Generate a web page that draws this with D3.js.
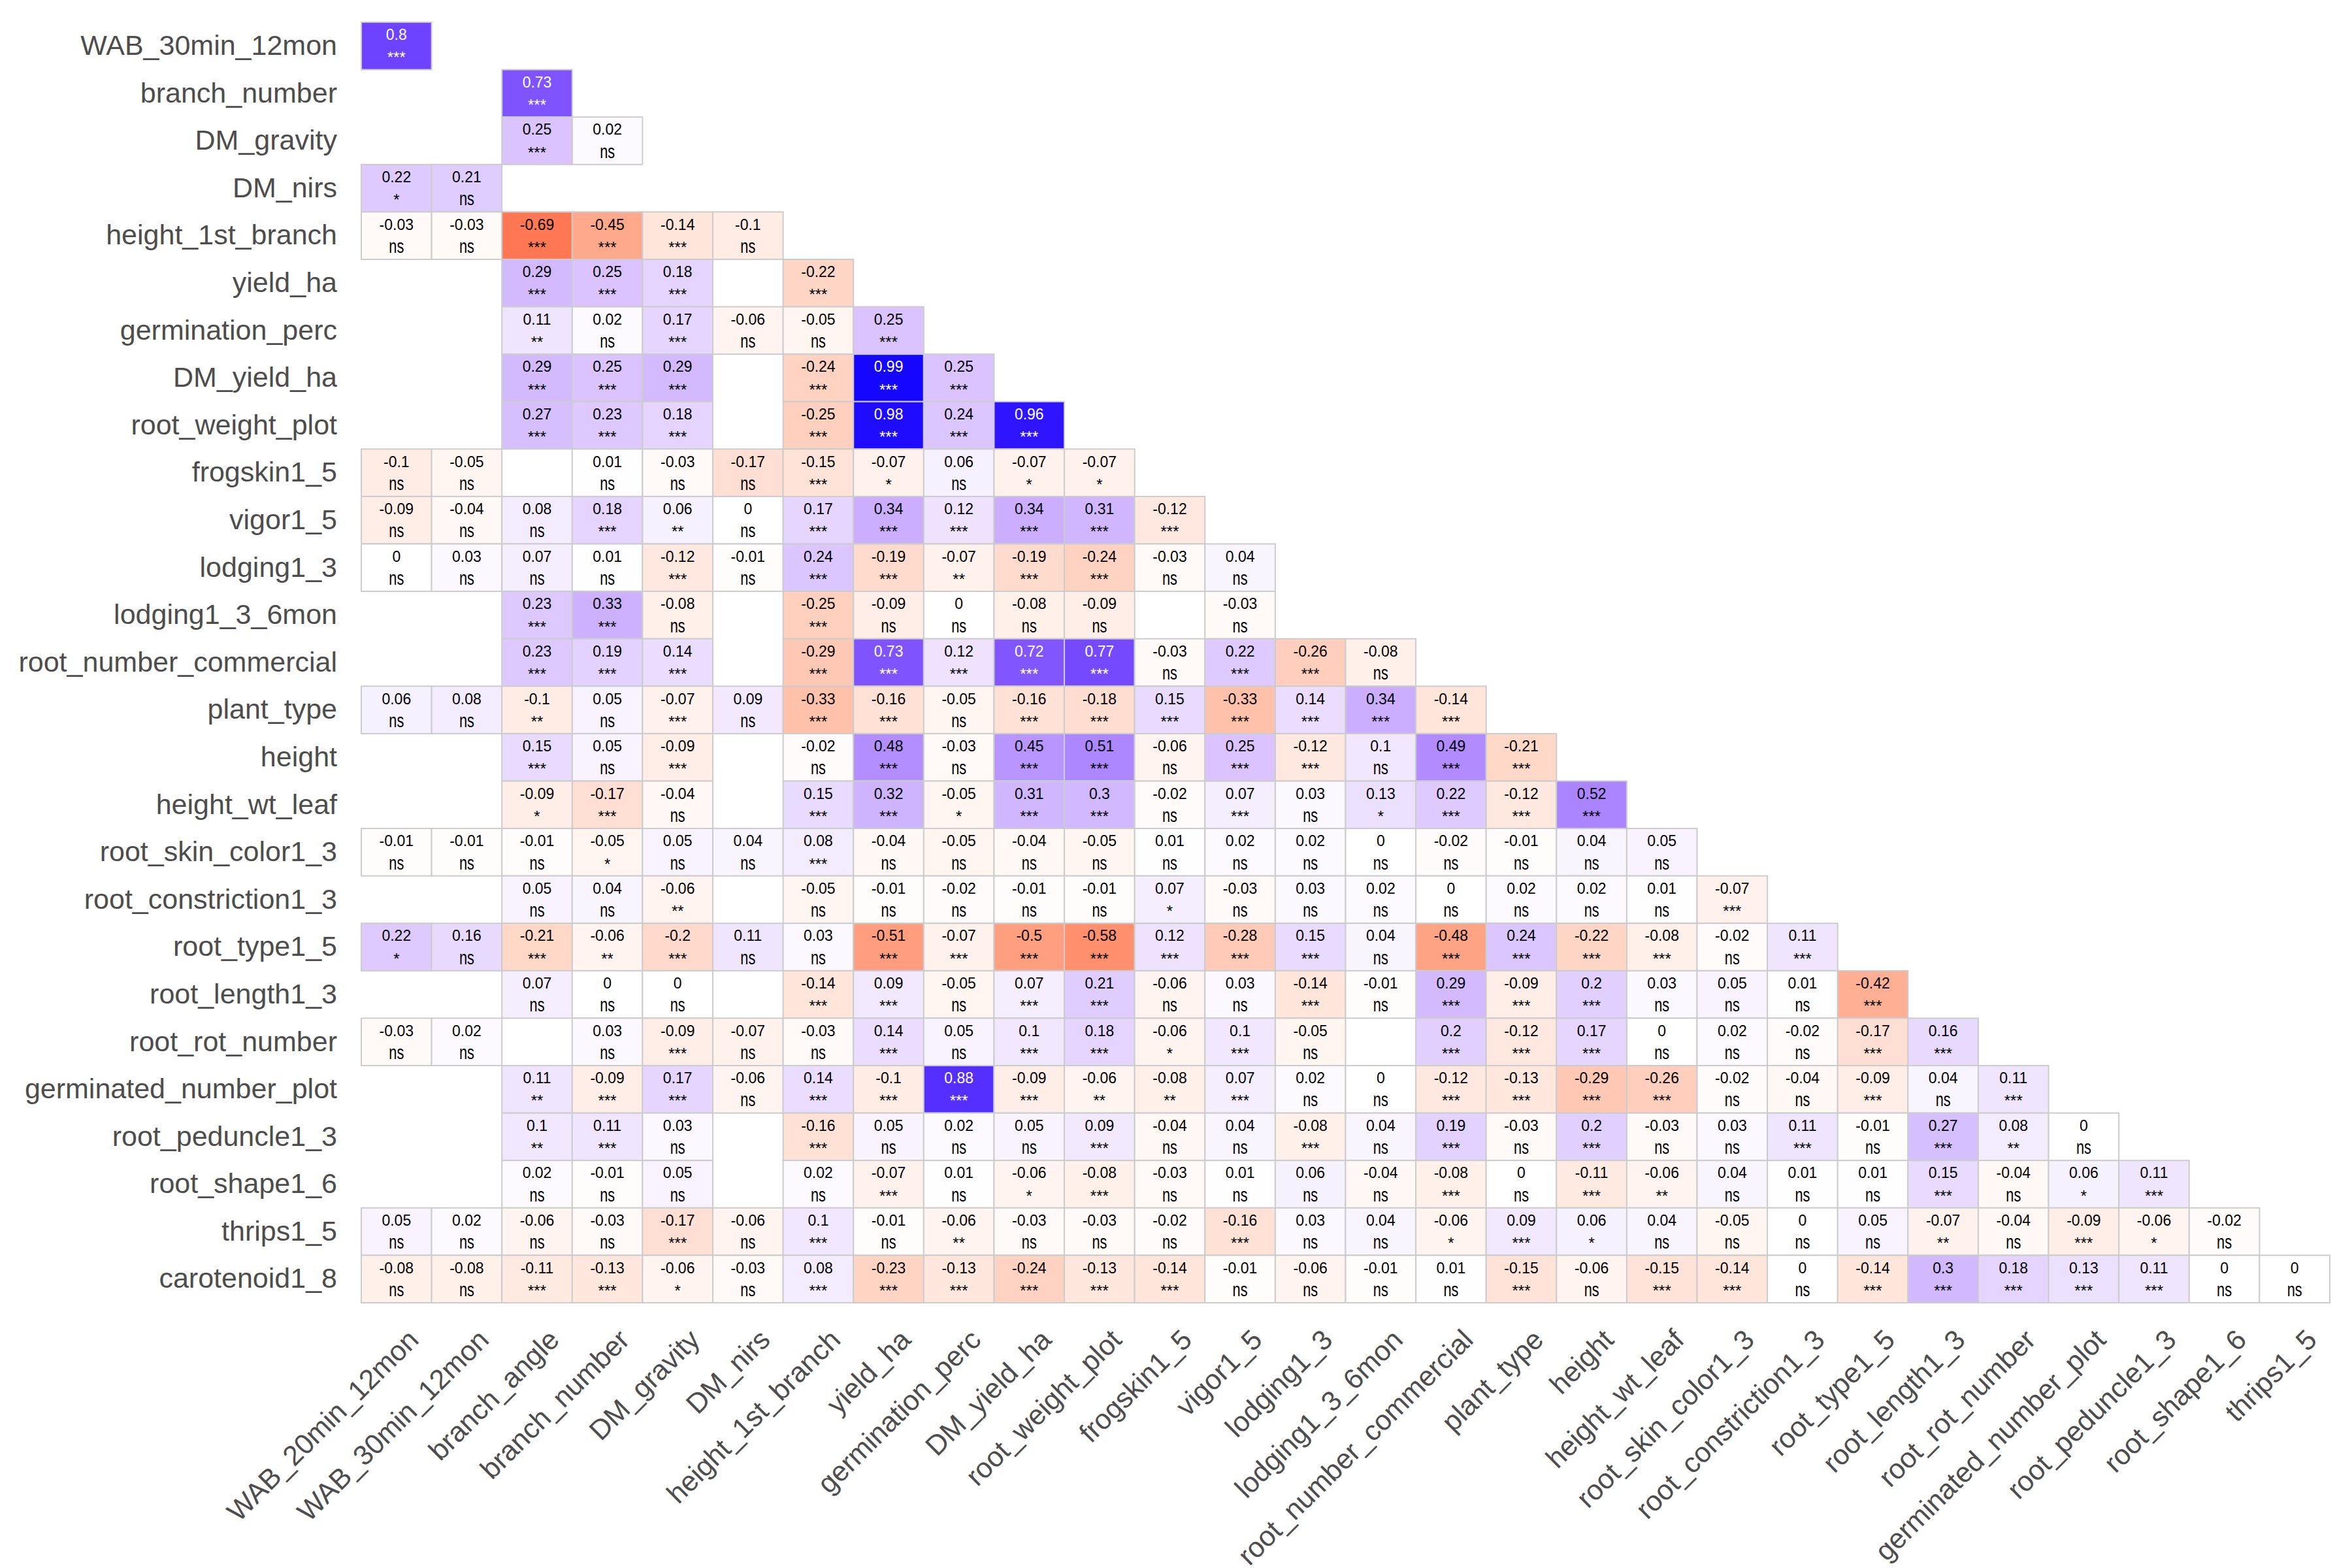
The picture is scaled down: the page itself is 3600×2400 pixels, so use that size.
<!DOCTYPE html>
<html>
<head>
<meta charset="utf-8">
<script src="https://cdn.jsdelivr.net/npm/d3@7"></script>
<style>
  body { margin: 0; background: #fff; }
  svg { display: block; font-family: "Liberation Sans", Arial, sans-serif; }
</style>
</head>
<body>
<svg id="svg"></svg>
<script>
// variables on the rows (top to bottom) and on the columns (left to right)
var rowLabels = ["WAB_30min_12mon", "branch_number", "DM_gravity", "DM_nirs", "height_1st_branch",
  "yield_ha", "germination_perc", "DM_yield_ha", "root_weight_plot", "frogskin1_5", "vigor1_5",
  "lodging1_3", "lodging1_3_6mon", "root_number_commercial", "plant_type", "height", "height_wt_leaf",
  "root_skin_color1_3", "root_constriction1_3", "root_type1_5", "root_length1_3", "root_rot_number",
  "germinated_number_plot", "root_peduncle1_3", "root_shape1_6", "thrips1_5", "carotenoid1_8"];

var colLabels = ["WAB_20min_12mon", "WAB_30min_12mon", "branch_angle", "branch_number", "DM_gravity",
  "DM_nirs", "height_1st_branch", "yield_ha", "germination_perc", "DM_yield_ha", "root_weight_plot",
  "frogskin1_5", "vigor1_5", "lodging1_3", "lodging1_3_6mon", "root_number_commercial", "plant_type",
  "height", "height_wt_leaf", "root_skin_color1_3", "root_constriction1_3", "root_type1_5",
  "root_length1_3", "root_rot_number", "germinated_number_plot", "root_peduncle1_3", "root_shape1_6",
  "thrips1_5"];

// correlation per row, null = no value (blank cell)
var corrValues = [
  [0.8],
  [null, null, 0.73],
  [null, null, 0.25, 0.02],
  [0.22, 0.21, null, null, null],
  [-0.03, -0.03, -0.69, -0.45, -0.14, -0.1],
  [null, null, 0.29, 0.25, 0.18, null, -0.22],
  [null, null, 0.11, 0.02, 0.17, -0.06, -0.05, 0.25],
  [null, null, 0.29, 0.25, 0.29, null, -0.24, 0.99, 0.25],
  [null, null, 0.27, 0.23, 0.18, null, -0.25, 0.98, 0.24, 0.96],
  [-0.1, -0.05, null, 0.01, -0.03, -0.17, -0.15, -0.07, 0.06, -0.07, -0.07],
  [-0.09, -0.04, 0.08, 0.18, 0.06, 0, 0.17, 0.34, 0.12, 0.34, 0.31, -0.12],
  [0, 0.03, 0.07, 0.01, -0.12, -0.01, 0.24, -0.19, -0.07, -0.19, -0.24, -0.03, 0.04],
  [null, null, 0.23, 0.33, -0.08, null, -0.25, -0.09, 0, -0.08, -0.09, null, -0.03, null],
  [null, null, 0.23, 0.19, 0.14, null, -0.29, 0.73, 0.12, 0.72, 0.77, -0.03, 0.22, -0.26, -0.08],
  [0.06, 0.08, -0.1, 0.05, -0.07, 0.09, -0.33, -0.16, -0.05, -0.16, -0.18, 0.15, -0.33, 0.14, 0.34, -0.14],
  [null, null, 0.15, 0.05, -0.09, null, -0.02, 0.48, -0.03, 0.45, 0.51, -0.06, 0.25, -0.12, 0.1, 0.49, -0.21],
  [null, null, -0.09, -0.17, -0.04, null, 0.15, 0.32, -0.05, 0.31, 0.3, -0.02, 0.07, 0.03, 0.13, 0.22, -0.12, 0.52],
  [-0.01, -0.01, -0.01, -0.05, 0.05, 0.04, 0.08, -0.04, -0.05, -0.04, -0.05, 0.01, 0.02, 0.02, 0, -0.02, -0.01, 0.04, 0.05],
  [null, null, 0.05, 0.04, -0.06, null, -0.05, -0.01, -0.02, -0.01, -0.01, 0.07, -0.03, 0.03, 0.02, 0, 0.02, 0.02, 0.01, -0.07],
  [0.22, 0.16, -0.21, -0.06, -0.2, 0.11, 0.03, -0.51, -0.07, -0.5, -0.58, 0.12, -0.28, 0.15, 0.04, -0.48, 0.24, -0.22, -0.08, -0.02, 0.11],
  [null, null, 0.07, 0, 0, null, -0.14, 0.09, -0.05, 0.07, 0.21, -0.06, 0.03, -0.14, -0.01, 0.29, -0.09, 0.2, 0.03, 0.05, 0.01, -0.42],
  [-0.03, 0.02, null, 0.03, -0.09, -0.07, -0.03, 0.14, 0.05, 0.1, 0.18, -0.06, 0.1, -0.05, null, 0.2, -0.12, 0.17, 0, 0.02, -0.02, -0.17, 0.16],
  [null, null, 0.11, -0.09, 0.17, -0.06, 0.14, -0.1, 0.88, -0.09, -0.06, -0.08, 0.07, 0.02, 0, -0.12, -0.13, -0.29, -0.26, -0.02, -0.04, -0.09, 0.04, 0.11],
  [null, null, 0.1, 0.11, 0.03, null, -0.16, 0.05, 0.02, 0.05, 0.09, -0.04, 0.04, -0.08, 0.04, 0.19, -0.03, 0.2, -0.03, 0.03, 0.11, -0.01, 0.27, 0.08, 0],
  [null, null, 0.02, -0.01, 0.05, null, 0.02, -0.07, 0.01, -0.06, -0.08, -0.03, 0.01, 0.06, -0.04, -0.08, 0, -0.11, -0.06, 0.04, 0.01, 0.01, 0.15, -0.04, 0.06, 0.11],
  [0.05, 0.02, -0.06, -0.03, -0.17, -0.06, 0.1, -0.01, -0.06, -0.03, -0.03, -0.02, -0.16, 0.03, 0.04, -0.06, 0.09, 0.06, 0.04, -0.05, 0, 0.05, -0.07, -0.04, -0.09, -0.06, -0.02],
  [-0.08, -0.08, -0.11, -0.13, -0.06, -0.03, 0.08, -0.23, -0.13, -0.24, -0.13, -0.14, -0.01, -0.06, -0.01, 0.01, -0.15, -0.06, -0.15, -0.14, 0, -0.14, 0.3, 0.18, 0.13, 0.11, 0, 0]
];

// significance per row, "." = blank cell
var sigLabels = [
  "***",
  ". . ***",
  ". . *** ns",
  "* ns . . .",
  "ns ns *** *** *** ns",
  ". . *** *** *** . ***",
  ". . ** ns *** ns ns ***",
  ". . *** *** *** . *** *** ***",
  ". . *** *** *** . *** *** *** ***",
  "ns ns . ns ns ns *** * ns * *",
  "ns ns ns *** ** ns *** *** *** *** *** ***",
  "ns ns ns ns *** ns *** *** ** *** *** ns ns",
  ". . *** *** ns . *** ns ns ns ns . ns .",
  ". . *** *** *** . *** *** *** *** *** ns *** *** ns",
  "ns ns ** ns *** ns *** *** ns *** *** *** *** *** *** ***",
  ". . *** ns *** . ns *** ns *** *** ns *** *** ns *** ***",
  ". . * *** ns . *** *** * *** *** ns *** ns * *** *** ***",
  "ns ns ns * ns ns *** ns ns ns ns ns ns ns ns ns ns ns ns",
  ". . ns ns ** . ns ns ns ns ns * ns ns ns ns ns ns ns ***",
  "* ns *** ** *** ns ns *** *** *** *** *** *** *** ns *** *** *** *** ns ***",
  ". . ns ns ns . *** *** ns *** *** ns ns *** ns *** *** *** ns ns ns ***",
  "ns ns . ns *** ns ns *** ns *** *** * *** ns . *** *** *** ns ns ns *** ***",
  ". . ** *** *** ns *** *** *** *** ** ** *** ns ns *** *** *** *** ns ns *** ns ***",
  ". . ** *** ns . *** ns ns ns *** ns ns *** ns *** ns *** ns ns *** ns *** ** ns",
  ". . ns ns ns . ns *** ns * *** ns ns ns ns *** ns *** ** ns ns ns *** ns * ***",
  "ns ns ns ns *** ns *** ns ** ns ns ns *** ns ns * *** * ns ns ns ns ** ns *** * ns",
  "ns ns *** *** * ns *** *** *** *** *** *** ns ns ns ns *** ns *** *** ns *** *** *** *** *** ns ns"
];

var width = 3600, height = 2400;
var svg = d3.select("#svg").attr("width", width).attr("height", height);
svg.append("rect").attr("width", width).attr("height", height).attr("fill", "#fff");

var xScale = d3.scaleBand().domain(colLabels).range([553, 3566]);
var yScale = d3.scaleBand().domain(rowLabels).range([34, 1994]);
var color = d3.scaleLinear().domain([-1, 0, 1])
  .range(["#FF0000", "#FFFFFF", "#0000FF"])
  .interpolate(d3.interpolateLab);

var cells = [];
corrValues.forEach((row, i) => {
  var sig = sigLabels[i].split(" ");
  row.forEach((v, j) => {
    if (v === null) return;
    cells.push({ row: rowLabels[i], col: colLabels[j], v: v, sig: sig[j] });
  });
});

var grid = svg.append("g");
grid.selectAll("rect")
  .data(cells)
  .join("rect")
  .attr("x", d => xScale(d.col))
  .attr("y", d => yScale(d.row))
  .attr("width", xScale.bandwidth())
  .attr("height", yScale.bandwidth())
  .attr("fill", d => color(d.v))
  .attr("stroke", "#CCCCCC")
  .attr("stroke-width", 2);

var txtColor = d => Math.abs(d.v) >= 0.7 ? "#FFFFFF" : "#000000";

grid.selectAll("text.val")
  .data(cells)
  .join("text")
  .attr("class", "val")
  .attr("x", d => xScale(d.col) + xScale.bandwidth() / 2)
  .attr("y", d => yScale(d.row) + yScale.bandwidth() * 0.375)
  .attr("text-anchor", "middle")
  .attr("font-size", 23)
  .attr("fill", txtColor)
  .text(d => String(d.v));

grid.selectAll("text.sig")
  .data(cells)
  .join("text")
  .attr("class", "sig")
  .attr("x", d => xScale(d.col) + xScale.bandwidth() / 2)
  .attr("y", d => yScale(d.row) + yScale.bandwidth() * 0.86)
  .attr("text-anchor", "middle")
  .attr("font-size", d => d.sig == "ns" ? 30 : 24)
  .attr("textLength", d => d.sig == "ns" ? 23 : null)
  .attr("lengthAdjust", d => d.sig == "ns" ? "spacingAndGlyphs" : null)
  .attr("fill", txtColor)
  .text(d => d.sig);

// axes
var yAxis = svg.append("g")
  .attr("transform", "translate(553,0)")
  .call(d3.axisLeft(yScale).tickSize(0).tickPadding(37));
yAxis.select(".domain").remove();
yAxis.attr("font-size", 43).attr("font-family", null);
yAxis.selectAll("text").attr("fill", "#4D4D4D");

var xAxis = svg.append("g")
  .attr("transform", "translate(0,1994)")
  .call(d3.axisBottom(xScale).tickSize(0).tickPadding(0));
xAxis.select(".domain").remove();
xAxis.attr("font-size", 43).attr("font-family", null);
xAxis.selectAll("text")
  .attr("fill", "#4D4D4D")
  .attr("y", 0)
  .attr("dy", "0.9em")
  .attr("text-anchor", "end")
  .attr("transform", "translate(9,32) rotate(-45)");
</script>
</body>
</html>
